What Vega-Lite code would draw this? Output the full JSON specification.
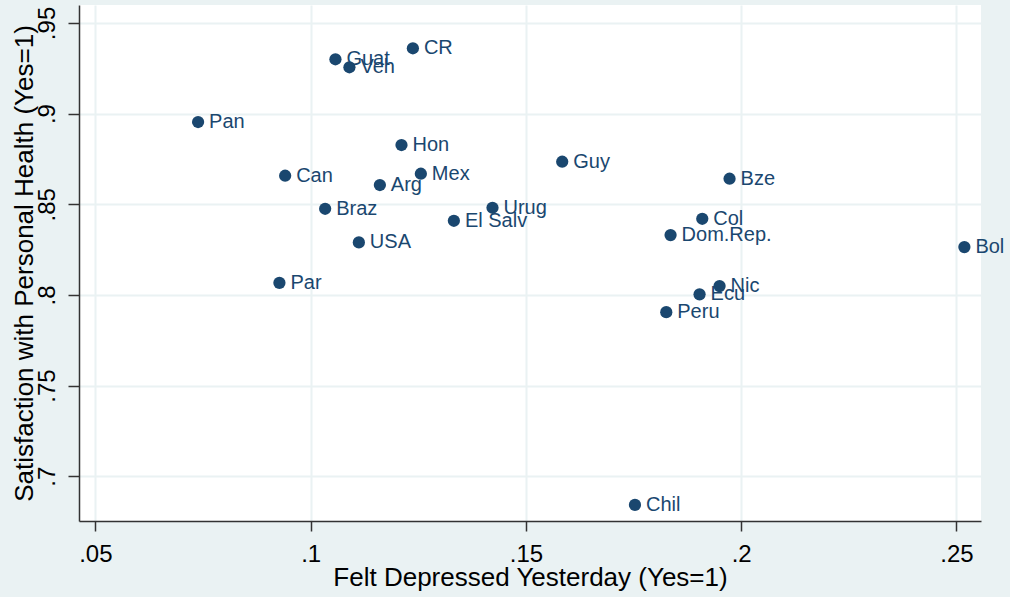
{
  "$schema": "https://vega.github.io/schema/vega-lite/v6.json",
  "width": 902,
  "height": 516,
  "autosize": {"type": "none"},
  "padding": {"left": 79, "top": 5, "right": 29, "bottom": 76},
  "background": "#EAF2F3",
  "config": {
    "view": {"fill": "white", "stroke": null},
    "font": "Liberation Sans"
  },
  "data": {
    "values": [
      {"country": "Pan", "dep": 0.07386, "sat": 0.89536},
      {"country": "Can", "dep": 0.09408, "sat": 0.86573},
      {"country": "Par", "dep": 0.09275, "sat": 0.80668},
      {"country": "Guat", "dep": 0.10576, "sat": 0.92997},
      {"country": "Veh", "dep": 0.10901, "sat": 0.92555},
      {"country": "CR", "dep": 0.12375, "sat": 0.93604},
      {"country": "Hon", "dep": 0.1211, "sat": 0.88267},
      {"country": "Mex", "dep": 0.1256, "sat": 0.86683},
      {"country": "Arg", "dep": 0.11608, "sat": 0.8606},
      {"country": "Braz", "dep": 0.10337, "sat": 0.84752},
      {"country": "USA", "dep": 0.1112, "sat": 0.82897},
      {"country": "El Salv", "dep": 0.13327, "sat": 0.84089},
      {"country": "Urug", "dep": 0.14224, "sat": 0.84807},
      {"country": "Guy", "dep": 0.15843, "sat": 0.87346},
      {"country": "Bze", "dep": 0.1973, "sat": 0.86407},
      {"country": "Col", "dep": 0.19096, "sat": 0.842},
      {"country": "Dom.Rep.", "dep": 0.1836, "sat": 0.833},
      {"country": "Bol", "dep": 0.25184, "sat": 0.82638},
      {"country": "Nic", "dep": 0.19498, "sat": 0.80486},
      {"country": "Ecu", "dep": 0.19033, "sat": 0.8003},
      {"country": "Peru", "dep": 0.1826, "sat": 0.7905},
      {"country": "Chil", "dep": 0.17533, "sat": 0.68416}
    ]
  },
  "encoding": {
    "x": {
      "field": "dep",
      "type": "quantitative",
      "scale": {"domain": [0.0462, 0.2557], "nice": false, "zero": false},
      "axis": {
        "title": "Felt Depressed Yesterday (Yes=1)",
        "values": [0.05, 0.1, 0.15, 0.2, 0.25],
        "labelExpr": "slice(format(datum.value, '.2~f'), 1)",
        "labelFontSize": 24,
        "labelColor": "black",
        "labelBaseline": "alphabetic",
        "labelPadding": 30,
        "labelFlush": false,
        "labelOverlap": false,
        "tickSize": 10,
        "tickColor": "#333333",
        "tickWidth": 1.5,
        "domainColor": "#333333",
        "domainWidth": 1.5,
        "grid": true,
        "gridColor": "#EAF2F3",
        "gridWidth": 2,
        "titleFontSize": 26,
        "titleFontWeight": "normal",
        "titleColor": "black",
        "titleBaseline": "alphabetic",
        "titleY": 64
      }
    },
    "y": {
      "field": "sat",
      "type": "quantitative",
      "scale": {"domain": [0.6753, 0.9599], "nice": false, "zero": false},
      "axis": {
        "title": "Satisfaction with Personal Health (Yes=1)",
        "values": [0.7, 0.75, 0.8, 0.85, 0.9, 0.95],
        "labelExpr": "slice(format(datum.value, '.2~f'), 1)",
        "labelFontSize": 24,
        "labelColor": "black",
        "labelAngle": -90,
        "labelAlign": "center",
        "labelBaseline": "alphabetic",
        "labelPadding": 14,
        "labelFlush": false,
        "labelOverlap": false,
        "tickSize": 11,
        "tickColor": "#333333",
        "tickWidth": 1.5,
        "domainColor": "#333333",
        "domainWidth": 1.5,
        "grid": true,
        "gridColor": "#EAF2F3",
        "gridWidth": 2,
        "titleFontSize": 26,
        "titleFontWeight": "normal",
        "titleColor": "black",
        "titleAngle": -90,
        "titleBaseline": "alphabetic",
        "titleX": -47,
        "titleY": 258
      }
    }
  },
  "layer": [
    {
      "mark": {"type": "circle", "size": 150, "color": "#1A476F", "opacity": 1}
    },
    {
      "mark": {"type": "text", "align": "left", "baseline": "middle", "dx": 11, "fontSize": 20, "color": "#1A476F"},
      "encoding": {"text": {"field": "country"}}
    }
  ]
}
